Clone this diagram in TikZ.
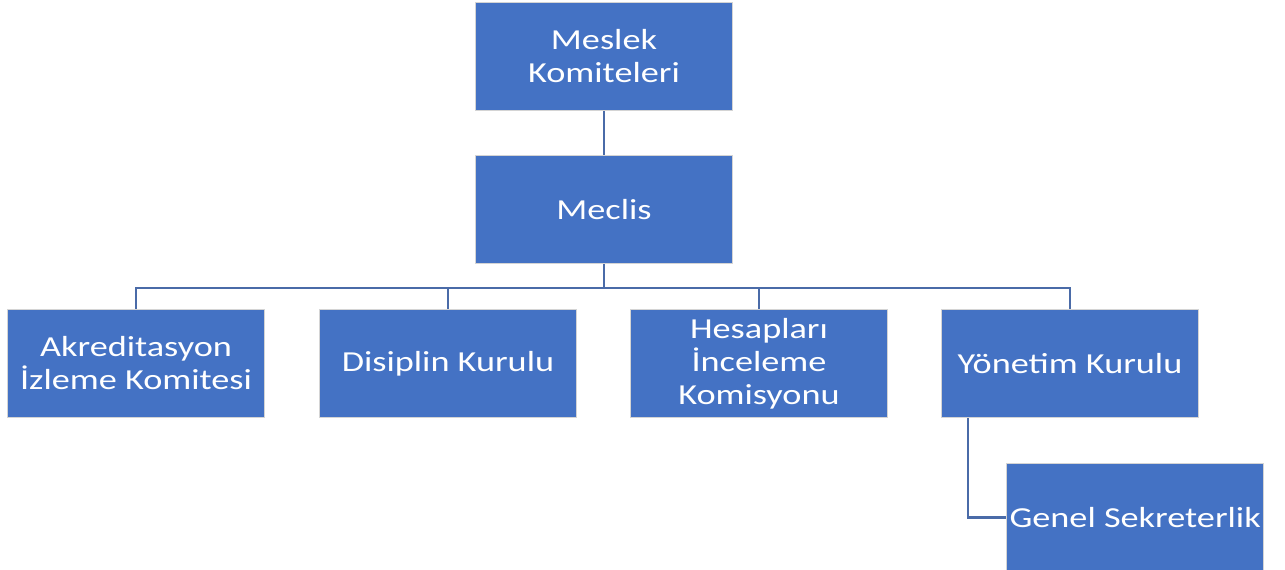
\documentclass[tikz,border=0pt]{standalone}
\usepackage{fontspec}
\setmainfont{Carlito}
\newfontfamily\wide[FakeStretch=1.25]{Carlito}
\definecolor{boxblue}{HTML}{4472C4}
\definecolor{linkblue}{HTML}{4A6BA8}
\definecolor{rim}{HTML}{D4D4D4}
\begin{document}
\begin{tikzpicture}[x=1pt,y=-1pt,
  orgbox/.style={draw=rim,line width=1.2pt,fill=boxblue,text=white,
    minimum width=257pt,minimum height=108pt,inner sep=0pt,align=center,
    font=\wide\fontsize{29}{33}\selectfont},
  link/.style={draw=linkblue,line width=2.6pt}]
\useasboundingbox (0,0) rectangle (1285,570);
\node[orgbox] (mk) at (604,56.5) {Meslek\\Komiteleri};
\node[orgbox] (me) at (604,209.5) {Meclis};
\node[orgbox] (ak) at (136,363.5) {Akreditasyon\\İzleme Komitesi};
\node[orgbox] (di) at (448,363.5) {Disiplin Kurulu};
\node[orgbox] (he) at (759,363.5) {Hesapları\\İnceleme\\Komisyonu};
\node[orgbox] (yo) at (1070,363.5) {Yönetim Kurulu};
\node[orgbox,anchor=north west] (gs) at (1006,463) {Genel Sekreterlik};
\coordinate (bar) at (604,288);
\draw[link] (mk.south) -- (me.north);
\draw[link] (me.south) -- (bar);
\draw[link] (ak.north) |- (bar) -| (yo.north);
\draw[link] (di.north) -- (di.north |- bar);
\draw[link] (he.north) -- (he.north |- bar);
\draw[link] (yo.south -| 968,0) |- (gs.west);
\end{tikzpicture}
\end{document}
